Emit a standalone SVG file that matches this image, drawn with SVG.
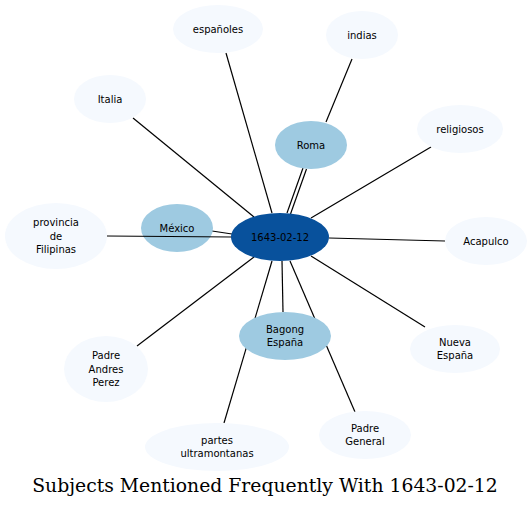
<svg xmlns="http://www.w3.org/2000/svg" width="532" height="508" viewBox="0 0 532 508">
<style>
.e{stroke:#000;stroke-width:1.2;fill:none}
.l{fill:#f5f9fe}
.m{fill:#9ecae1}
.c{fill:#08519c}
text{font-family:"DejaVu Sans",sans-serif;font-size:10px;text-anchor:middle;fill:#000}
.t{font-family:"DejaVu Serif",serif;font-size:18.8px}
</style>
<rect width="532" height="508" fill="#fff"/>
<g id="edges">
<line class="e" x1="272" y1="213" x2="226" y2="53"/>
<line class="e" x1="326" y1="122" x2="352" y2="59"/>
<line class="e" x1="287" y1="213" x2="303" y2="168"/>
<line class="e" x1="290.5" y1="214" x2="306.5" y2="169"/>
<line class="e" x1="133" y1="118" x2="254" y2="217"/>
<line class="e" x1="311" y1="218" x2="431" y2="147"/>
<line class="e" x1="329" y1="238" x2="445" y2="241"/>
<line class="e" x1="311" y1="256" x2="425" y2="327"/>
<line class="e" x1="282" y1="261" x2="283" y2="312"/>
<line class="e" x1="290" y1="261" x2="355" y2="412"/>
<line class="e" x1="272" y1="261" x2="224" y2="423"/>
<line class="e" x1="254" y1="257" x2="137" y2="346"/>
<line class="e" x1="212" y1="231" x2="232" y2="234"/>
</g>
<g id="n_mexico"><ellipse class="m" cx="177" cy="228" rx="36" ry="24"/><text x="177" y="231.5">México</text></g>
<g id="n_provincia"><ellipse class="l" cx="56" cy="236" rx="51" ry="33"/><text x="56" y="226.2">provincia</text><text x="56" y="239.5">de</text><text x="56" y="252.8">Filipinas</text></g>
<line class="e" x1="107" y1="236" x2="232" y2="237"/>
<g id="n_roma"><ellipse class="m" cx="311" cy="145" rx="36" ry="24"/><text x="311" y="148.5">Roma</text></g>
<g id="n_espanoles"><ellipse class="l" cx="218" cy="29" rx="45" ry="24"/><text x="218" y="32.5">españoles</text></g>
<g id="n_indias"><ellipse class="l" cx="362" cy="35" rx="36" ry="24"/><text x="362" y="38.5">indias</text></g>
<g id="n_italia"><ellipse class="l" cx="110" cy="99" rx="36" ry="24"/><text x="110" y="102.5">Italia</text></g>
<g id="n_religiosos"><ellipse class="l" cx="460" cy="129" rx="43" ry="24"/><text x="460" y="132.5">religiosos</text></g>
<g id="n_acapulco"><ellipse class="l" cx="486" cy="241" rx="41" ry="24"/><text x="486" y="244.5">Acapulco</text></g>
<g id="n_nueva"><ellipse class="l" cx="455" cy="349" rx="45" ry="24"/><text x="455" y="345.8">Nueva</text><text x="455" y="359.1">España</text></g>
<g id="n_padreandres"><ellipse class="l" cx="106" cy="369" rx="42" ry="33"/><text x="106" y="359.2">Padre</text><text x="106" y="372.5">Andres</text><text x="106" y="385.8">Perez</text></g>
<g id="n_partes"><ellipse class="l" cx="217" cy="447" rx="72" ry="24"/><text x="217" y="443.8">partes</text><text x="217" y="457.1">ultramontanas</text></g>
<g id="n_padregeneral"><ellipse class="l" cx="365" cy="435" rx="46" ry="24"/><text x="365" y="431.8">Padre</text><text x="365" y="445.1">General</text></g>
<g id="n_bagong"><ellipse class="m" cx="285" cy="336" rx="46" ry="24"/><text x="285" y="332.8">Bagong</text><text x="285" y="346.1">España</text></g>
<g id="n_center"><ellipse class="c" cx="280" cy="237" rx="49" ry="24"/><text x="280" y="240.5">1643-02-12</text></g>
<text class="t" x="265" y="492">Subjects Mentioned Frequently With 1643-02-12</text>
</svg>
